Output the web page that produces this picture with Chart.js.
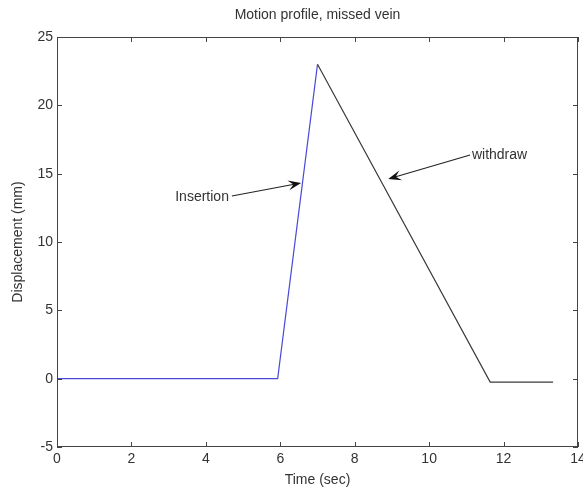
<!DOCTYPE html>
<html>
<head>
<meta charset="utf-8">
<script src="https://cdn.jsdelivr.net/npm/chart.js@4"></script>
<style>
  html, body { margin: 0; padding: 0; background: #fff; }
  #wrap { width: 583px; height: 489px; }
</style>
</head>
<body>
<div id="wrap"><canvas id="c" width="583" height="489"></canvas></div>
<script>
// Insertion phase (needle moving in)
const insertTime = [0, 5.93, 7.0];
const insertDisp = [0, 0, 23.0];
// Withdrawal phase (needle pulled back out)
const withdrawTime = [7.0, 11.64, 13.33];
const withdrawDisp = [23.0, -0.25, -0.25];

const xTicks = [0, 2, 4, 6, 8, 10, 12, 14];
const yTicks = [-5, 0, 5, 10, 15, 20, 25];

const chartTitle = 'Motion profile, missed vein';

// Text callouts with arrows, in data coordinates
const callouts = [
  { text: 'Insertion', textAt: [4.62, 13.3], align: 'right', from: [4.70, 13.37], to: [6.56, 14.32] },
  { text: 'withdraw', textAt: [11.15, 16.36], align: 'left', from: [11.10, 16.36], to: [8.90, 14.61] }
];

const FONT = '"Liberation Sans", Arial, sans-serif';
const FS = 14;
const TEXT = '#333';

function toPts(xs, ys) { return xs.map((x, i) => ({ x, y: ys[i] })); }

const boxAndTicks = {
  id: 'boxAndTicks',
  afterDatasetsDraw(chart) {
    const { ctx, chartArea: a, scales } = chart;
    ctx.save();
    ctx.strokeStyle = '#444';
    ctx.lineWidth = 1;
    ctx.strokeRect(Math.round(a.left) + 0.5, Math.round(a.top) + 0.5,
      Math.round(a.right - a.left) - 1, Math.round(a.bottom - a.top) - 1);
    const L = 5;
    ctx.beginPath();
    xTicks.forEach(v => {
      const x = Math.round(scales.x.getPixelForValue(v)) + 0.5;
      ctx.moveTo(x, a.bottom); ctx.lineTo(x, a.bottom - L);
      ctx.moveTo(x, a.top); ctx.lineTo(x, a.top + L);
    });
    yTicks.forEach(v => {
      const y = Math.round(scales.y.getPixelForValue(v)) + 0.5;
      ctx.moveTo(a.left, y); ctx.lineTo(a.left + L, y);
      ctx.moveTo(a.right, y); ctx.lineTo(a.right - L, y);
    });
    ctx.stroke();

    // title centred over the plot box
    ctx.fillStyle = TEXT;
    ctx.font = FS + 'px ' + FONT;
    ctx.textAlign = 'center';
    ctx.textBaseline = 'middle';
    ctx.fillText(chartTitle, (a.left + a.right) / 2, 15);

    // callouts
    callouts.forEach(c => {
      const tx = scales.x.getPixelForValue(c.textAt[0]);
      const ty = scales.y.getPixelForValue(c.textAt[1]);
      ctx.textAlign = c.align;
      ctx.fillStyle = TEXT;
      ctx.fillText(c.text, tx, ty);
      const x0 = scales.x.getPixelForValue(c.from[0]);
      const y0 = scales.y.getPixelForValue(c.from[1]);
      const x1 = scales.x.getPixelForValue(c.to[0]);
      const y1 = scales.y.getPixelForValue(c.to[1]);
      const ang = Math.atan2(y1 - y0, x1 - x0);
      const len = 13, half = 5;
      ctx.strokeStyle = '#222';
      ctx.lineWidth = 1.1;
      ctx.beginPath();
      ctx.moveTo(x0, y0);
      ctx.lineTo(x1 - Math.cos(ang) * 7, y1 - Math.sin(ang) * 7);
      ctx.stroke();
      // notched arrow head
      const bx = x1 - Math.cos(ang) * len, by = y1 - Math.sin(ang) * len;
      const nx = -Math.sin(ang), ny = Math.cos(ang);
      const mx = x1 - Math.cos(ang) * (len * 0.6), my = y1 - Math.sin(ang) * (len * 0.6);
      ctx.fillStyle = '#111';
      ctx.beginPath();
      ctx.moveTo(x1, y1);
      ctx.lineTo(bx + nx * half, by + ny * half);
      ctx.lineTo(mx, my);
      ctx.lineTo(bx - nx * half, by - ny * half);
      ctx.closePath();
      ctx.fill();
    });
    ctx.restore();
  }
};

new Chart(document.getElementById('c'), {
  type: 'line',
  data: {
    datasets: [
      { data: toPts(insertTime, insertDisp), borderColor: '#4a4ad8', borderWidth: 1.2, pointRadius: 0, tension: 0, fill: false },
      { data: toPts(withdrawTime, withdrawDisp), borderColor: '#3a3a3a', borderWidth: 1.2, pointRadius: 0, tension: 0, fill: false }
    ]
  },
  options: {
    responsive: false,
    animation: false,
    layout: { padding: { left: 0, right: 5, top: 37, bottom: 0 } },
    plugins: {
      legend: { display: false },
      tooltip: { enabled: false },
      title: { display: false }
    },
    scales: {
      x: {
        type: 'linear',
        min: 0, max: 14,
        afterBuildTicks: s => { s.ticks = xTicks.map(v => ({ value: v })); },
        afterFit: s => { s.height = 42; s.paddingRight = 0; s.paddingLeft = 0; },
        grid: { display: false, drawTicks: false },
        border: { display: false },
        ticks: { color: TEXT, font: { family: FONT, size: FS }, padding: 4, maxRotation: 0 },
        title: { display: true, text: 'Time (sec)', color: TEXT, font: { family: FONT, size: FS }, padding: { top: 0, bottom: 0 } }
      },
      y: {
        type: 'linear',
        min: -5, max: 25,
        afterBuildTicks: s => { s.ticks = yTicks.map(v => ({ value: v })); },
        afterFit: s => { s.width = 57; s.paddingTop = 0; s.paddingBottom = 0; },
        grid: { display: false, drawTicks: false },
        border: { display: false },
        ticks: { color: TEXT, font: { family: FONT, size: FS }, padding: 4 },
        title: { display: true, text: 'Displacement (mm)', color: TEXT, font: { family: FONT, size: FS }, padding: { top: 10, bottom: 0 } }
      }
    }
  },
  plugins: [boxAndTicks]
});
</script>
</body>
</html>
